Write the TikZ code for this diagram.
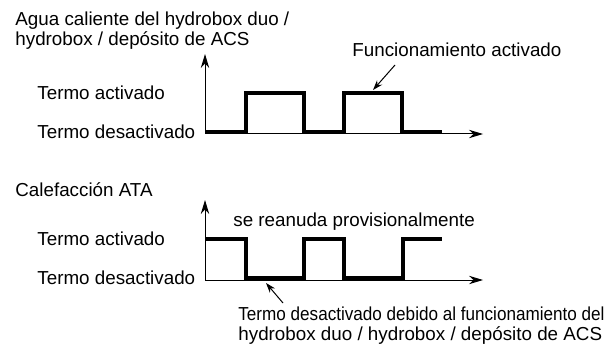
\documentclass[tikz,border=0pt]{standalone}
\usepackage{fontspec}
\setmainfont{Liberation Sans}
\usetikzlibrary{arrows.meta, calc}

\begin{document}
\begin{tikzpicture}[x=0.5pt, y=-0.5pt, >={Stealth[length=7pt, width=4.2pt]},
  every node/.style={font=\fontsize{9.4}{10}\selectfont, inner sep=0pt},
  axis/.style={line width=0.5pt, ->},
  signal/.style={line width=2pt},
  pointer/.style={line width=0.5pt, -{Stealth[length=5pt, width=3.4pt]}}]
  \useasboundingbox (0,0) rectangle (613,347);

  % hot water chart
  \node[anchor=north west, align=left] (dhw) at (15,11) {Agua caliente del hydrobox duo /\\hydrobox / depósito de ACS};
  \coordinate (o1) at (205,134);
  \draw[axis] (o1) -- (205,54) coordinate (y1);
  \draw[axis] (o1) -- (483,134) coordinate (x1);
  \node[anchor=west] (on1) at (37,93) {Termo activado};
  \node[anchor=west] (off1) at (37,132) {Termo desactivado};
  \draw[signal] (205,132) -| (245.5,93) -| (304,132) -| (344,93) -| (402,132) -- (442,132);
  \node[anchor=base west] (run) at (352,57) {Funcionamiento activado};
  \coordinate (runtip) at (373,90);
  \draw[pointer] ($(run.base west)+(43,8)$) -- (runtip);

  % space heating chart
  \node[anchor=base west] (ata) at (15,196) {Calefacción ATA};
  \coordinate (o2) at (205,280);
  \draw[axis] (o2) -- (205,200) coordinate (y2);
  \draw[axis] (o2) -- (483,280) coordinate (x2);
  \node[anchor=west] (on2) at (37,239) {Termo activado};
  \node[anchor=west] (off2) at (37,278) {Termo desactivado};
  \draw[signal] (205,239) -| (245.5,278) -| (304,239) -| (344,278) -| (402.7,239) -- (442,239);
  \node[anchor=base west] (resume) at (233,226) {se reanuda provisionalmente};
  \node[anchor=north west, align=left] (block) at (238,306) {\scalebox{0.91}[1]{Termo desactivado debido al funcionamiento del}\\hydrobox duo / hydrobox / depósito de ACS};
  \coordinate (blocktip) at (266,283);
  \draw[pointer] ($(block.north west)+(45,-3)$) -- (blocktip);
\end{tikzpicture}
\end{document}
